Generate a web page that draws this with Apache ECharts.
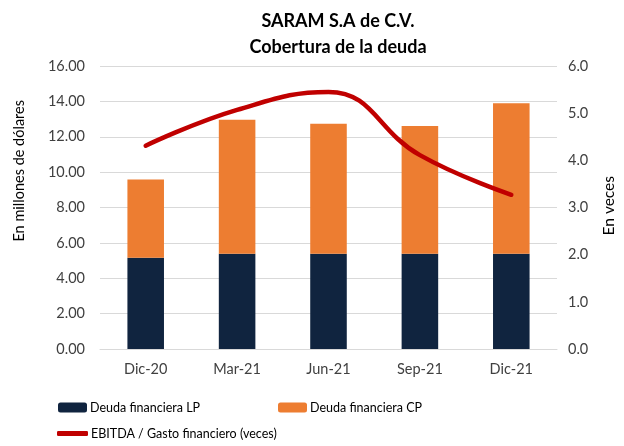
<!DOCTYPE html>
<html>
<head>
<meta charset="utf-8">
<script src="https://cdn.jsdelivr.net/npm/echarts@6/dist/echarts.min.js"></script>
<style>
  html, body { margin: 0; padding: 0; background: #fff; }
  #main { width: 624px; height: 446px; }
</style>
</head>
<body>
<div id="main"></div>
<script>
var periodos = ['Dic-20', 'Mar-21', 'Jun-21', 'Sep-21', 'Dic-21'];
var deudaLP = [5.16, 5.39, 5.39, 5.39, 5.39];
var deudaCP = [4.42, 7.57, 7.35, 7.22, 8.50];
var cobertura = [4.31, 5.07, 5.45, 4.11, 3.27];

var fuente = 'Lato, "Open Sans", sans-serif';
var gris = '#404040';

var chart = echarts.init(document.getElementById('main'));
chart.setOption({
  animation: false,
  textStyle: { fontFamily: fuente },
  title: {
    text: 'SARAM S.A de C.V.\nCobertura de la deuda',
    left: 333, top: 3, textAlign: 'center',
    textStyle: { fontSize: 18, fontWeight: 'bold', color: '#000', lineHeight: 26, fontFamily: fuente }
  },
  grid: { left: 100, right: 67, top: 66, bottom: 97 },
  legend: [
    { left: 53, top: 396, itemWidth: 29, itemHeight: 10, itemGap: 0,
      data: ['Deuda financiera LP'], textStyle: { fontSize: 12.5, color: '#000', padding: [0, 0, 0, -2] } },
    { left: 273, top: 396, itemWidth: 29, itemHeight: 10, itemGap: 0,
      data: ['Deuda financiera CP'], textStyle: { fontSize: 12.5, color: '#000', padding: [0, 0, 0, -2] } },
    { left: 52, top: 422, itemWidth: 31, itemHeight: 5, itemGap: 0, icon: 'roundRect',
      data: ['EBITDA / Gasto financiero (veces)'], textStyle: { fontSize: 12.5, color: '#000', padding: [0, 0, 0, -2] } }
  ],
  xAxis: {
    type: 'category',
    data: periodos,
    axisLine: { lineStyle: { color: '#d9d9d9' } },
    axisTick: { show: false },
    axisLabel: { color: gris, fontSize: 14.5, margin: 13 }
  },
  yAxis: [
    { type: 'value', min: 0, max: 16, interval: 2,
      axisLabel: { color: gris, fontSize: 14.5, margin: 15, formatter: function (v) { return v.toFixed(2); } },
      splitLine: { lineStyle: { color: '#d9d9d9' } } },
    { type: 'value', min: 0, max: 6, interval: 1,
      axisLabel: { color: gris, fontSize: 14.5, margin: 11, formatter: function (v) { return v.toFixed(1); } },
      splitLine: { show: false } }
  ],
  graphic: [
    { type: 'text', left: 12, top: 100, rotation: Math.PI / 2,
      style: { text: 'En millones de dólares', fontSize: 14.5, fill: '#000', fontFamily: fuente } },
    { type: 'text', right: 7, top: 176, rotation: Math.PI / 2,
      style: { text: 'En veces', fontSize: 15.5, fill: '#000', fontFamily: fuente } }
  ],
  series: [
    { name: 'Deuda financiera LP', type: 'bar', stack: 'deuda', data: deudaLP, barWidth: '40%',
      itemStyle: { color: '#10243f' } },
    { name: 'Deuda financiera CP', type: 'bar', stack: 'deuda', data: deudaCP, barWidth: '40%',
      itemStyle: { color: '#ed7d31' } },
    { name: 'EBITDA / Gasto financiero (veces)', type: 'line', yAxisIndex: 1, data: cobertura,
      smooth: 0.45, showSymbol: false, symbol: 'none',
      lineStyle: { color: '#c00000', width: 4.5, cap: 'round' },
      itemStyle: { color: '#c00000' } }
  ]
});
</script>
</body>
</html>
